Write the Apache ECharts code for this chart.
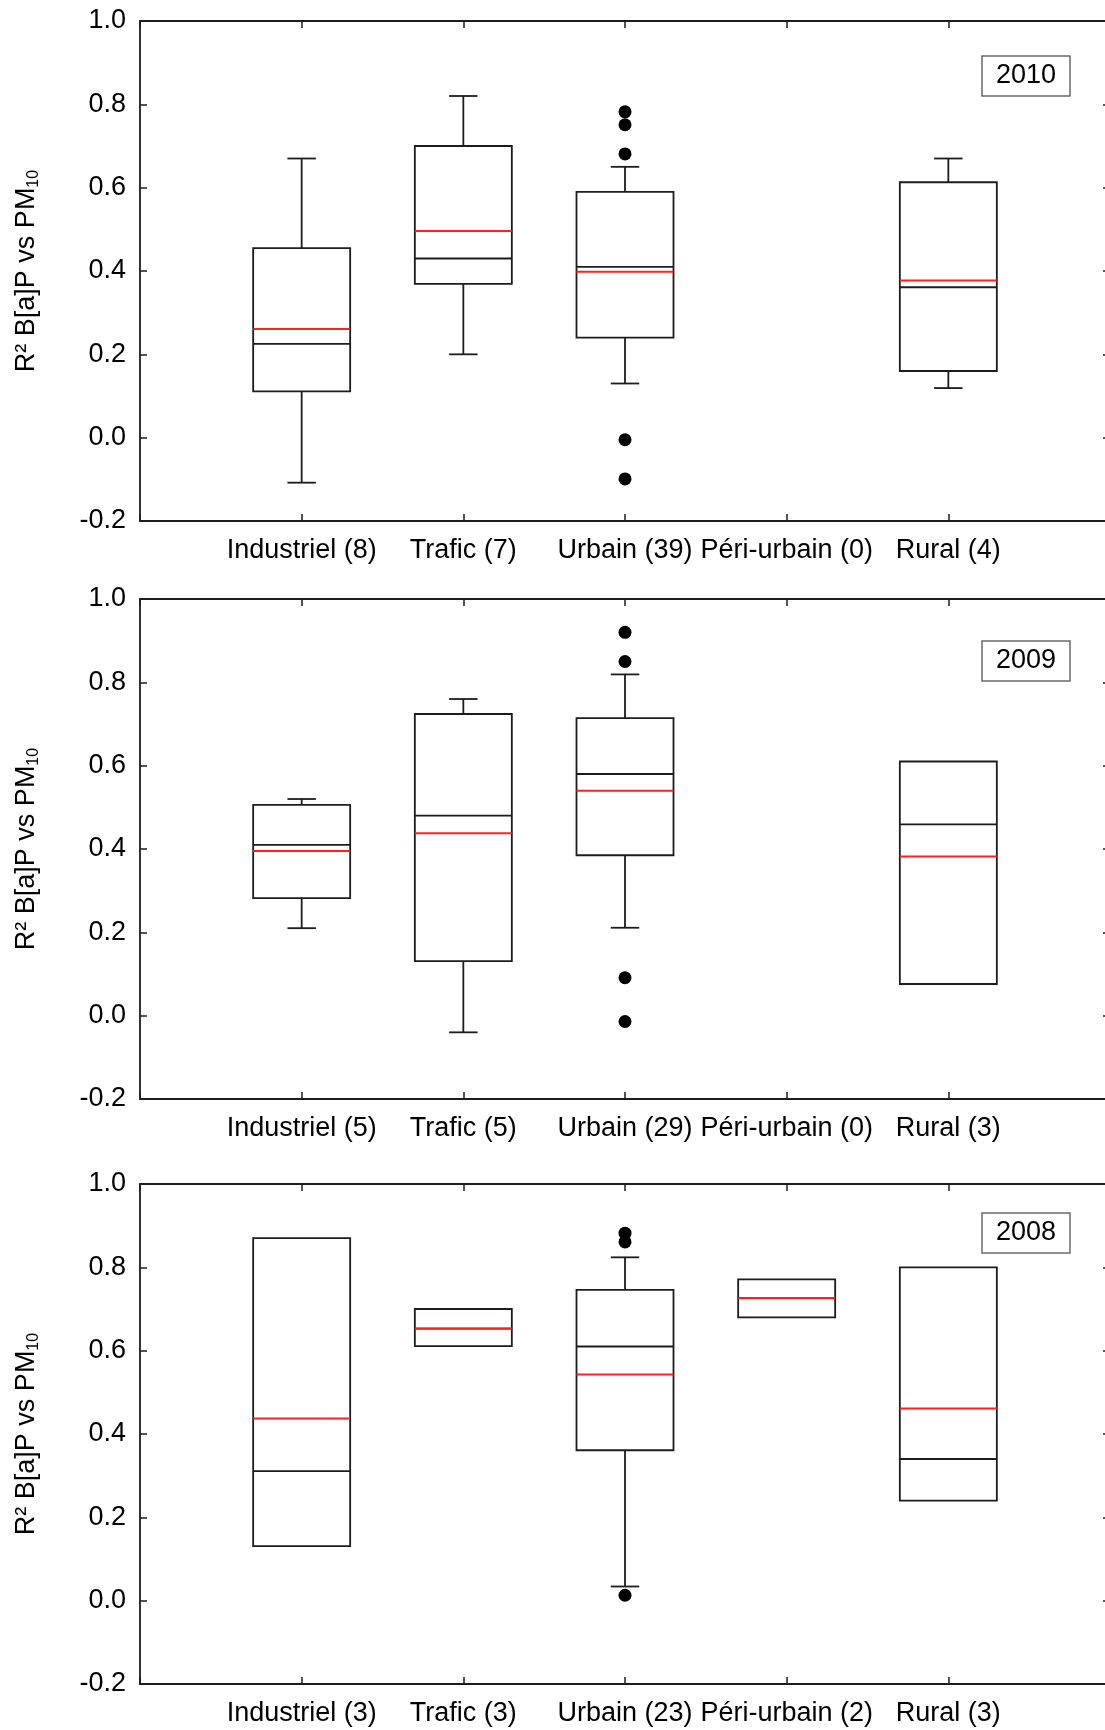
<!DOCTYPE html>
<html>
<head>
<meta charset="utf-8">
<script src="https://cdn.jsdelivr.net/npm/echarts@6/dist/echarts.min.js"></script>
<style>
  html, body { margin: 0; padding: 0; background: #fff; }
  #main { width: 1105px; height: 1730px; }
</style>
</head>
<body>
<div id="main"></div>
<script>
var categories = ['Industriel', 'Trafic', 'Urbain', 'Péri-urbain', 'Rural'];
var years = ['2010', '2009', '2008'];
var yTicks = [-0.2, 0.0, 0.2, 0.4, 0.6, 0.8, 1.0];

// number of stations per class
var counts2010 = [8, 7, 39, 0, 4];
var counts2009 = [5, 5, 29, 0, 3];
var counts2008 = [3, 3, 23, 2, 3];

// [whisker low, Q1, median, Q3, whisker high, mean], null = no box
var box2010 = [
  [-0.108, 0.111, 0.225, 0.455, 0.670, 0.261],
  [0.200, 0.369, 0.430, 0.700, 0.820, 0.496],
  [0.130, 0.240, 0.410, 0.590, 0.650, 0.398],
  null,
  [0.119, 0.160, 0.361, 0.613, 0.670, 0.377]
];
var box2009 = [
  [0.210, 0.282, 0.410, 0.506, 0.520, 0.395],
  [-0.040, 0.131, 0.480, 0.724, 0.760, 0.438],
  [0.211, 0.385, 0.580, 0.714, 0.819, 0.540],
  null,
  [0.076, 0.076, 0.459, 0.610, 0.610, 0.382]
];
var box2008 = [
  [0.131, 0.131, 0.311, 0.870, 0.870, 0.437],
  [0.611, 0.611, 0.653, 0.700, 0.700, 0.653],
  [0.034, 0.361, 0.610, 0.746, 0.824, 0.543],
  [0.680, 0.680, 0.726, 0.771, 0.771, 0.726],
  [0.240, 0.240, 0.340, 0.800, 0.800, 0.461]
];

// outliers per class
var out2010 = [[], [], [0.782, 0.751, 0.681, -0.005, -0.099], [], []];
var out2009 = [[], [], [0.920, 0.850, 0.091, -0.014], [], []];
var out2008 = [[], [], [0.882, 0.861, 0.013], [], []];

var FONT = '"Liberation Sans", Arial, sans-serif';
var INK = '#1c1c1c';

var panels = [
  { year: years[0], counts: counts2010, boxes: box2010, outs: out2010, top: 21, tag: 56 },
  { year: years[1], counts: counts2009, boxes: box2009, outs: out2009, top: 599, tag: 641 },
  { year: years[2], counts: counts2008, boxes: box2008, outs: out2008, top: 1184, tag: 1213 }
];

function renderBox(params, api) {
  var x = api.value(0);
  var lo = api.value(1), q1 = api.value(2), med = api.value(3);
  var q3 = api.value(4), hi = api.value(5), mean = api.value(6);
  var half = api.size([0.3, 0])[0];
  var capHalf = api.size([0.088, 0])[0];
  var pQ1 = api.coord([x, q1]), pQ3 = api.coord([x, q3]);
  var pLo = api.coord([x, lo]), pHi = api.coord([x, hi]);
  var yMed = api.coord([x, med])[1], yMean = api.coord([x, mean])[1];
  var cx = pQ1[0];
  var ink = { stroke: INK, lineWidth: 1.8 };
  var kids = [];
  function seg(x1, y1, x2, y2, st) {
    kids.push({ type: 'line', shape: { x1: x1, y1: y1, x2: x2, y2: y2 }, style: st });
  }
  if (hi > q3) {
    seg(cx, pQ3[1], cx, pHi[1], ink);
    seg(cx - capHalf, pHi[1], cx + capHalf, pHi[1], ink);
  }
  if (lo < q1) {
    seg(cx, pQ1[1], cx, pLo[1], ink);
    seg(cx - capHalf, pLo[1], cx + capHalf, pLo[1], ink);
  }
  kids.push({
    type: 'rect',
    shape: { x: cx - half, y: pQ3[1], width: half * 2, height: pQ1[1] - pQ3[1] },
    style: { stroke: INK, lineWidth: 1.8, fill: 'none' }
  });
  seg(cx - half, yMed, cx + half, yMed, ink);
  seg(cx - half, yMean, cx + half, yMean, { stroke: '#ff2020', lineWidth: 2 });
  return { type: 'group', children: kids };
}

function catLabel(counts) {
  return function (v) {
    var i = Math.round(v) - 1;
    if (i < 0 || i >= categories.length) return '';
    return categories[i] + ' (' + counts[i] + ')';
  };
}

var grid = [], xAxis = [], yAxis = [], series = [], title = [];
var axisLine = { show: true, onZero: false, lineStyle: { color: INK, width: 1.8 } };
var tick = { show: true, inside: true, length: 7, lineStyle: { color: INK, width: 1.5 } };

panels.forEach(function (p, k) {
  grid.push({ left: 140, top: p.top, width: 970, height: 500, outerBoundsMode: 'none', containLabel: false });

  xAxis.push({
    type: 'value', gridIndex: k, position: 'bottom', min: 0, max: 6, interval: 1,
    axisLine: axisLine, axisTick: tick, splitLine: { show: false },
    axisLabel: { formatter: catLabel(p.counts), margin: 16, fontSize: 27, color: '#000', fontFamily: FONT }
  });
  xAxis.push({
    type: 'value', gridIndex: k, position: 'top', min: 0, max: 6, interval: 1,
    axisLine: axisLine, axisTick: tick, splitLine: { show: false }, axisLabel: { show: false }
  });

  yAxis.push({
    type: 'value', gridIndex: k, position: 'left',
    min: yTicks[0], max: yTicks[yTicks.length - 1], interval: 0.2,
    axisLine: axisLine, axisTick: tick, splitLine: { show: false },
    axisLabel: {
      margin: 14, fontSize: 27, color: '#000', fontFamily: FONT,
      formatter: function (v) { return (Math.round(v * 10) / 10).toFixed(1); }
    },
    name: 'R² B[a]P vs PM{sub|10}',
    nameLocation: 'middle', nameRotate: 90, nameGap: 98,
    nameTextStyle: {
      fontSize: 27, color: '#000', fontFamily: FONT, lineHeight: 30,
      rich: { sub: { fontSize: 16, fontFamily: FONT, color: '#000', verticalAlign: 'bottom', lineHeight: 16 } }
    }
  });
  yAxis.push({
    type: 'value', gridIndex: k, position: 'right',
    min: yTicks[0], max: yTicks[yTicks.length - 1], interval: 0.2,
    axisLine: axisLine, axisTick: tick, splitLine: { show: false }, axisLabel: { show: false }
  });

  var boxData = [];
  var outData = [];
  p.boxes.forEach(function (b, i) {
    if (b) boxData.push([i + 1].concat(b));
    p.outs[i].forEach(function (v) { outData.push([i + 1, v]); });
  });

  series.push({
    type: 'custom', xAxisIndex: k * 2, yAxisIndex: k * 2,
    renderItem: renderBox,
    encode: { x: 0, y: [1, 2, 3, 4, 5] },
    data: boxData, silent: true
  });
  series.push({
    type: 'scatter', xAxisIndex: k * 2, yAxisIndex: k * 2,
    symbol: 'circle', symbolSize: 13,
    itemStyle: { color: '#000', opacity: 1 },
    data: outData, silent: true
  });

  title.push({
    text: p.year, left: 982, top: p.tag,
    borderColor: '#6a6a6a', borderWidth: 1.5, padding: [5, 14, 5, 14],
    textStyle: { fontSize: 27, fontWeight: 'normal', color: '#000', fontFamily: FONT, lineHeight: 30 }
  });
});

var option = {
  animation: false,
  backgroundColor: '#fff',
  title: title,
  grid: grid,
  xAxis: xAxis,
  yAxis: yAxis,
  series: series
};

var myChart = echarts.init(document.getElementById('main'));
myChart.setOption(option);
</script>
</body>
</html>
